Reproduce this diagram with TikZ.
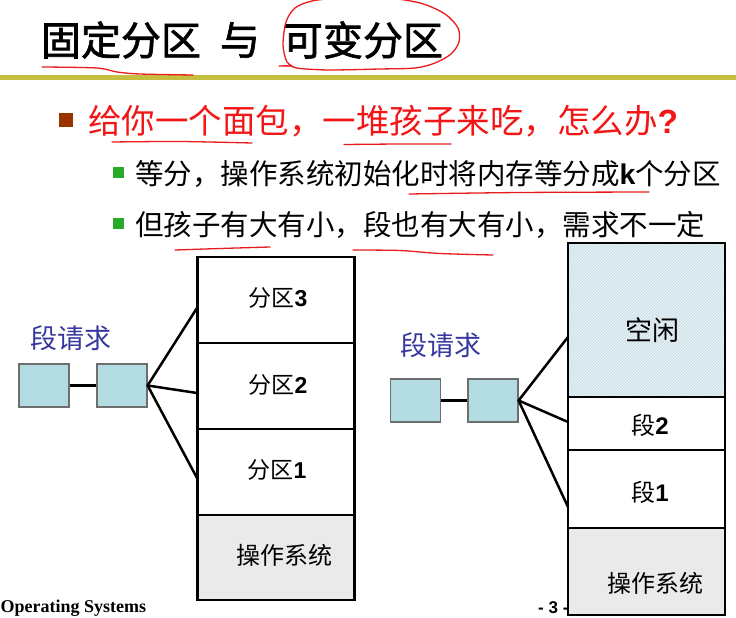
\documentclass[tikz,border=0pt]{standalone}
\usepackage{fontspec}
\setmainfont{Liberation Sans}
\newfontfamily\cjk{Noto Sans CJK SC}
\newfontfamily\cjkt[FakeBold=1.6]{Noto Sans CJK SC}
\newfontfamily\arl{Liberation Sans}
\newfontfamily\tms{Liberation Serif}
\usetikzlibrary{patterns}
\definecolor{oliveline}{RGB}{198,190,64}
\definecolor{inkred}{RGB}{232,28,28}
\definecolor{txtred}{RGB}{242,22,22}
\definecolor{bulbrown}{RGB}{153,51,0}
\definecolor{bulgreen}{RGB}{40,170,40}
\definecolor{reqblue}{RGB}{55,55,160}
\definecolor{boxblue}{RGB}{178,220,226}
\definecolor{boxedge}{RGB}{110,110,110}
\definecolor{osgray}{RGB}{234,234,234}
\definecolor{freebg}{RGB}{230,240,244}
\definecolor{freeline}{RGB}{196,218,228}
\begin{document}
\begin{tikzpicture}[x=1pt,y=-1pt,
  txt/.style={inner sep=0pt,outer sep=0pt,anchor=west},
  lbl/.style={inner sep=0pt,outer sep=0pt},
  reqbox/.style={draw=boxedge,fill=boxblue,line width=1.2,minimum width=50,minimum height=43,inner sep=0pt},
  cell/.style={draw=black,line width=2.6,minimum width=157,inner sep=0pt,fill=white},
  oscell/.style={cell,fill=osgray},
  wire/.style={draw=black,line width=2.5},
  pen/.style={draw=inkred,line width=1.3,line cap=round,line join=round},
  bulletbox/.style={inner sep=0pt,minimum size=#1},
]
\useasboundingbox (0,0) rectangle (736,618);
\fill[white] (0,0) rectangle (736,618);

% title
\node[txt,font=\cjkt\fontsize{40}{40}\selectfont] (t1) at (41,40) {固定分区};
\node[txt,font=\cjkt\fontsize{40}{40}\selectfont] (t2) at (220,40) {与};
\node[txt,font=\cjkt\fontsize{40}{40}\selectfont] (t3) at (283,40) {可变分区};
\draw[oliveline,line width=4.5] (0,77.5) -- (736,77.5);

% bullets
\node[bulletbox=14,fill=bulbrown] (b1) at (66,120) {};
\node[txt,text=txtred,font=\cjk\fontsize{33.5}{33.5}\selectfont] (l1) at (88,121)
  {给你一个面包，一堆孩子来吃，怎么办{\arl\bfseries ?}};
\node[bulletbox=11,fill=bulgreen] (b2) at (118,172) {};
\node[txt,font=\cjk\fontsize{28.5}{28.5}\selectfont] (l2) at (135,174)
  {等分，操作系统初始化时将内存等分成{\arl\bfseries k}个分区};
\node[bulletbox=11,fill=bulgreen] (b3) at (118,223) {};
\node[txt,font=\cjk\fontsize{28.5}{28.5}\selectfont] (l3) at (135,225)
  {但孩子有大有小，段也有大有小，需求不一定};

% footer text (partly under the right column)
\node[inner sep=0pt,anchor=base west,font=\tms\bfseries\fontsize{18}{18}\selectfont] (f1) at (0.5,612) {Operating Systems};
\node[inner sep=0pt,anchor=base west,font=\arl\bfseries\fontsize{17}{17}\selectfont] (f2) at (538,613) {- 3 -};

% left diagram
\node[lbl,text=reqblue,font=\cjk\fontsize{27}{27}\selectfont] (rq1) at (71,338) {段请求};
\node[reqbox] (la) at (44,385.5) {};
\node[reqbox] (lb) at (122,385.5) {};
\draw[wire] (la) -- (lb);
\node[cell,minimum height=86] (p3) at (276,300) {};
\node[cell,minimum height=86] (p2) at (276,386) {};
\node[cell,minimum height=86] (p1) at (276,472) {};
\node[oscell,minimum height=85] (pos) at (276,557.5) {};
\node[lbl,font=\cjk\fontsize{23}{23}\selectfont] (tp3) at (278,298) {分区{\arl\bfseries 3}};
\node[lbl,font=\cjk\fontsize{23}{23}\selectfont] (tp2) at (278,385) {分区{\arl\bfseries 2}};
\node[lbl,font=\cjk\fontsize{23}{23}\selectfont] (tp1) at (277,470) {分区{\arl\bfseries 1}};
\node[lbl,font=\cjk\fontsize{24}{24}\selectfont] (tpos) at (284,555) {操作系统};
\coordinate (e3) at (197,308);
\coordinate (e2) at (197,393);
\coordinate (e1) at (197,478);
\draw[wire,line join=miter] (e3) -- (lb.east) -- (e1);
\draw[wire] (lb.east) -- (e2);

% right diagram
\node[lbl,text=reqblue,font=\cjk\fontsize{27}{27}\selectfont] (rq2) at (441,345) {段请求};
\node[reqbox] (ra) at (415.5,400.5) {};
\node[reqbox] (rb) at (493,400.5) {};
\draw[wire] (ra) -- (rb);
\node[cell,minimum height=154,preaction={fill=freebg},pattern=north east lines,pattern color=freeline] (fr) at (646.5,320) {};
\node[cell,minimum height=53] (s2) at (646.5,423.5) {};
\node[cell,minimum height=78] (s1) at (646.5,489) {};
\node[oscell,minimum height=87] (ros) at (646.5,571.5) {};
\node[lbl,font=\cjk\fontsize{27}{27}\selectfont] (tfr) at (652,330) {空闲};
\node[lbl,font=\cjk\fontsize{24}{24}\selectfont] (ts2) at (650,425) {段{\arl\bfseries 2}};
\node[lbl,font=\cjk\fontsize{24}{24}\selectfont] (ts1) at (650,492) {段{\arl\bfseries 1}};
\node[lbl,font=\cjk\fontsize{24}{24}\selectfont] (tros) at (655,583) {操作系统};
\coordinate (g3) at (568,337);
\coordinate (g2) at (568,422);
\coordinate (g1) at (568,507);
\draw[wire,line join=miter] (g3) -- (rb.east) -- (g1);
\draw[wire] (rb.east) -- (g2);

% red hand annotations
\draw[pen] plot[smooth] coordinates {(42,67) (97,68) (117,72) (140,74) (193,75)};
\draw[pen] plot[smooth] coordinates {(279,66) (290,66) (300,68.5) (330,70) (380,69) (415,68) (435,63) (451,54) (459,42) (458,28) (445,14) (420,3) (380,-3) (340,-2) (312,1) (295,8) (286,22) (283,45) (287,62) (296,68)};
\draw[pen] plot[smooth] coordinates {(112,142) (180,141.5) (252,143)};
\draw[pen] plot[smooth] coordinates {(344,144.5) (400,144) (451,144)};
\draw[pen] plot[smooth] coordinates {(409,194) (520,192.5) (649,192)};
\draw[pen] plot[smooth] coordinates {(175,250) (220,248.5) (270,247)};
\draw[pen] plot[smooth] coordinates {(353,250) (400,250.5) (440,253.5) (493,255)};
\end{tikzpicture}
\end{document}
